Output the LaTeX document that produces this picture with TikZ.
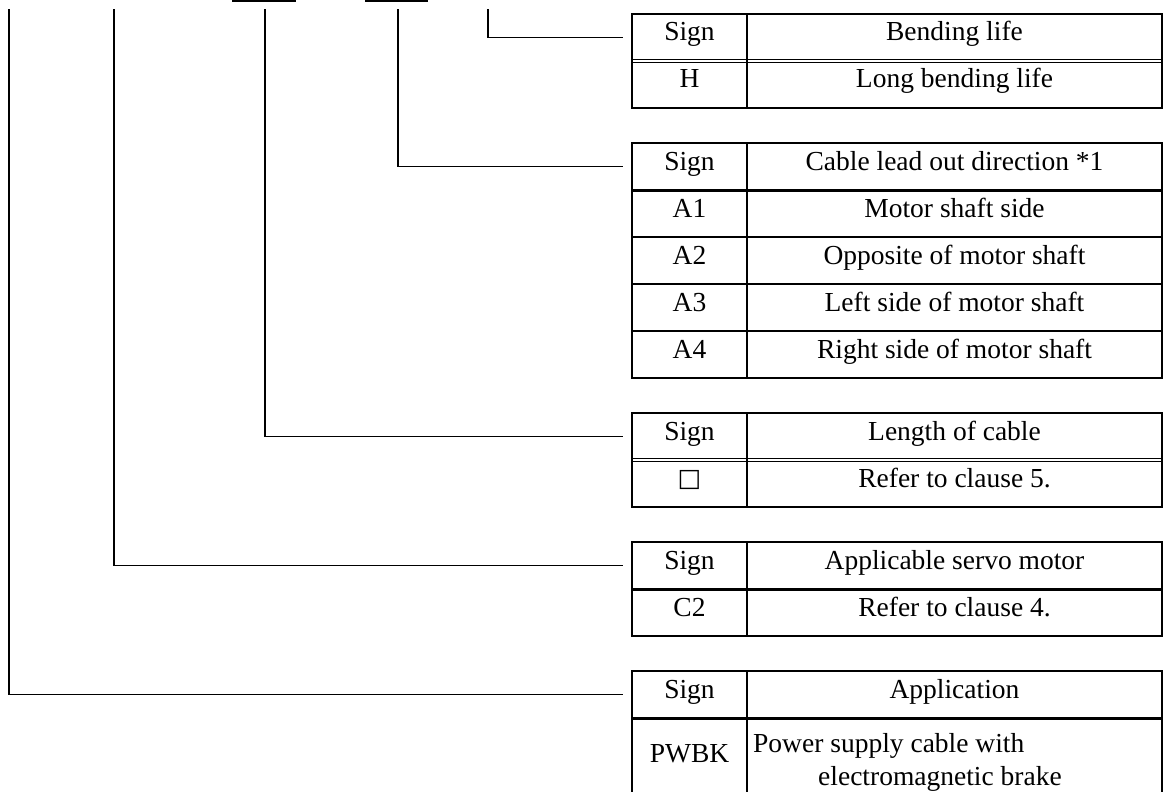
\documentclass[tikz,border=0pt]{standalone}
\usepackage{fontspec}
\setmainfont{Liberation Serif}
\newcommand{\tf}{\fontsize{27.5}{31}\selectfont}
\tikzset{
  cell/.style={minimum height=47pt, inner sep=0pt, outer sep=0pt, anchor=north west, font=\tf,
               text height=19pt, text depth=12pt},
  signc/.style={cell, minimum width=115pt},
  descc/.style={cell, minimum width=415pt},
  txt/.style={font=\tf, inner sep=0pt},
  conn/.style={line width=1.4pt, line cap=rect},
  border/.style={line width=2pt},
  thicksep/.style={line width=3pt},
  dblsep/.style={double, double distance=1.4pt, line width=1pt},
}
\begin{document}
\begin{tikzpicture}[x=1pt,y=-1pt]
\useasboundingbox (0,0) rectangle (1168,792);

% marks at the top edge
\coordinate (m1a) at (233,1.2); \coordinate (m1b) at (295,1.2);
\coordinate (m2a) at (366,1.2); \coordinate (m2b) at (427,1.2);
\draw[conn] (m1a) -- (m1b);
\draw[conn] (m2a) -- (m2b);

% ---------- Table 1 ----------
\node[signc] (t1h) at (632,14) {Sign};
\node[descc] (t1hd) at (747,14) {Bending life};
\node[signc] (t1a) at (632,61) {H};
\node[descc] (t1ad) at (747,61) {Long bending life};
\draw[dblsep] (t1h.south west) -- (t1hd.south east);
\draw[border] (t1h.north east) -- (t1a.south east);
\draw[border] (t1h.north west) rectangle (t1ad.south east);

% ---------- Table 2 ----------
\node[signc] (t2h) at (632,143) {Sign};
\node[descc] (t2hd) at (747,143) {Cable lead out direction *1};
\node[signc] (t2a) at (632,190) {A1};
\node[descc] (t2ad) at (747,190) {Motor shaft side};
\node[signc] (t2b) at (632,237) {A2};
\node[descc] (t2bd) at (747,237) {Opposite of motor shaft};
\node[signc] (t2c) at (632,284) {A3};
\node[descc] (t2cd) at (747,284) {Left side of motor shaft};
\node[signc] (t2d) at (632,331) {A4};
\node[descc] (t2dd) at (747,331) {Right side of motor shaft};
\draw[thicksep] (t2h.south west) -- (t2hd.south east);
\draw[border] (t2a.south west) -- (t2ad.south east);
\draw[border] (t2b.south west) -- (t2bd.south east);
\draw[border] (t2c.south west) -- (t2cd.south east);
\draw[border] (t2h.north east) -- (t2d.south east);
\draw[border] (t2h.north west) rectangle (t2dd.south east);

% ---------- Table 3 ----------
\node[signc] (t3h) at (632,413) {Sign};
\node[descc] (t3hd) at (747,413) {Length of cable};
\node[signc] (t3a) at (632,460) {\fontspec{DejaVu Sans}\fontsize{25}{28}\selectfont\raisebox{1pt}{□}};
\node[descc] (t3ad) at (747,460) {Refer to clause 5.};
\draw[dblsep] (t3h.south west) -- (t3hd.south east);
\draw[border] (t3h.north east) -- (t3a.south east);
\draw[border] (t3h.north west) rectangle (t3ad.south east);

% ---------- Table 4 ----------
\node[signc] (t4h) at (632,542) {Sign};
\node[descc] (t4hd) at (747,542) {Applicable servo motor};
\node[signc] (t4a) at (632,589) {C2};
\node[descc] (t4ad) at (747,589) {Refer to clause 4.};
\draw[thicksep] (t4h.south west) -- (t4hd.south east);
\draw[border] (t4h.north east) -- (t4a.south east);
\draw[border] (t4h.north west) rectangle (t4ad.south east);

% ---------- Table 5 ----------
\node[signc] (t5h) at (632,671) {Sign};
\node[descc] (t5hd) at (747,671) {Application};
\node[signc, minimum height=100pt] (t5a) at (632,718) {};
\node[descc, minimum height=100pt] (t5ad) at (747,718) {};
\node[txt, anchor=base] (t5pw) at (689.5,762) {PWBK};
\node[txt, anchor=base west] (t5l1) at (753,752) {Power supply cable with};
\node[txt, anchor=base west] (t5l2) at (818,785) {electromagnetic brake};
\draw[thicksep] (t5h.south west) -- (t5hd.south east);
\draw[border] (t5h.north east) -- (t5a.south east);
\draw[border] (t5h.north west) rectangle (t5ad.south east);

% ---------- connectors ----------
\coordinate (v5) at (9,10);
\coordinate (v4) at (114,10);
\coordinate (v3) at (265,10);
\coordinate (v2) at (398,10);
\coordinate (v1) at (488,10);
\draw[conn, shorten >=10pt] (v1) |- (t1h.west);
\draw[conn, shorten >=10pt] (v2) |- (t2h.west);
\draw[conn, shorten >=10pt] (v3) |- (t3h.west);
\draw[conn, shorten >=10pt] (v4) |- (t4h.west);
\draw[conn, shorten >=10pt] (v5) |- (t5h.west);
\end{tikzpicture}
\end{document}
